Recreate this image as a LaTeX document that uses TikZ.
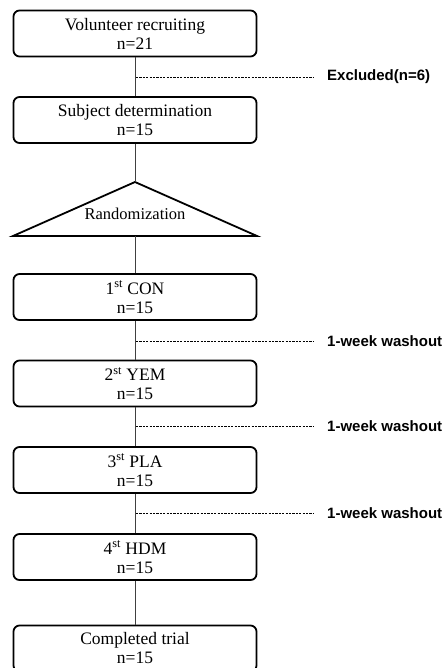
\documentclass[tikz,border=0pt]{standalone}
\usepackage{fontspec}
\setmainfont{Liberation Serif}
\newfontfamily\labelfont{Liberation Sans}
\begin{document}
\begin{tikzpicture}[x=1pt,y=-1pt,
  boxfont/.style={font=\fontsize{17.5}{19}\selectfont},
  box/.style={draw,line width=1.8pt,rounded corners=6pt,minimum width=243pt,minimum height=46pt,align=center,boxfont,inner sep=0pt},
  conn/.style={draw=black!75,line width=0.9pt},
  dashline/.style={draw,line width=0.6pt,dash pattern=on 2.2pt off 1.2pt},
  side/.style={anchor=west,font=\labelfont\bfseries\fontsize{15}{17}\selectfont,inner sep=0pt}]
\useasboundingbox (0,0) rectangle (446,668);
\clip (0,0) rectangle (446,668);
\node[box] (b1) at (135,33.5) {Volunteer recruiting\\n=21};
\node[box] (b2) at (135,120) {Subject determination\\n=15};
\coordinate (ta) at (135,182);
\coordinate (tl) at (13,236);
\coordinate (tr) at (257,236);
\coordinate (tb) at (135,236);
\draw[line width=1.8pt,line join=miter] (ta) -- (tr) -- (tl) -- cycle;
\node[font=\fontsize{16.5}{19}\selectfont] (rnd) at (135,214) {Randomization};
\node[box] (b3) at (135,297) {1\textsuperscript{st} CON\\n=15};
\node[box] (b4) at (135,383.5) {2\textsuperscript{st} YEM\\n=15};
\node[box] (b5) at (135,470) {3\textsuperscript{st} PLA\\n=15};
\node[box] (b6) at (135,557) {4\textsuperscript{st} HDM\\n=15};
\node[box] (b7) at (135,648.5) {Completed trial\\n=15};
\draw[conn] (b1) -- (b2);
\draw[conn] (b2) -- (ta);
\draw[conn] (tb) -- (b3);
\draw[conn] (b3) -- (b4);
\draw[conn] (b4) -- (b5);
\draw[conn] (b5) -- (b6);
\draw[conn] (b6) -- (b7);
\coordinate (e0) at (136,77);
\coordinate (w1) at (136,341);
\coordinate (w2) at (136,426);
\coordinate (w3) at (136,513);
\node[side] (ex) at (327,77) {Excluded(n=6)};
\node[side] (l1) at (327,341) {1-week washout};
\node[side] (l2) at (327,426) {1-week washout};
\node[side] (l3) at (327,513) {1-week washout};
\draw[dashline] (e0) -- ([xshift=-14pt]ex.west);
\draw[dashline] (w1) -- ([xshift=-14pt]l1.west);
\draw[dashline] (w2) -- ([xshift=-14pt]l2.west);
\draw[dashline] (w3) -- ([xshift=-14pt]l3.west);
\end{tikzpicture}
\end{document}
